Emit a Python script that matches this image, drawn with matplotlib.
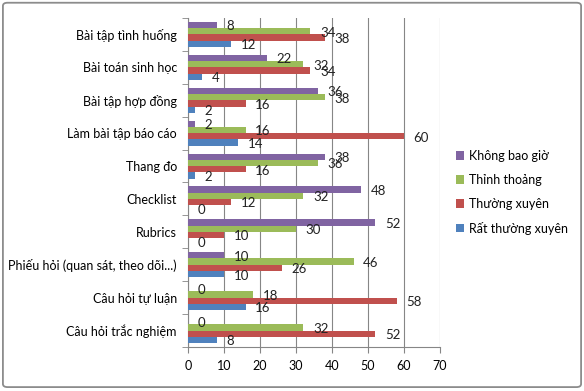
import matplotlib.pyplot as plt
import numpy as np
from matplotlib.patches import FancyBboxPatch

categories = ['Câu hỏi trắc nghiệm', 'Câu hỏi tự luận', 'Phiếu hỏi (quan sát, theo dõi...)',
              'Rubrics', 'Checklist', 'Thang đo', 'Làm bài tập báo cáo',
              'Bài tập hợp đồng', 'Bài toán sinh học', 'Bài tập tình huống']
rat_thuong_xuyen = [8, 16, 10, 0, 0, 2, 14, 2, 4, 12]
thuong_xuyen = [52, 58, 26, 10, 12, 16, 60, 16, 34, 38]
thinh_thoang = [32, 18, 46, 30, 32, 36, 16, 38, 32, 34]
khong_bao_gio = [0, 0, 10, 52, 48, 38, 2, 36, 22, 8]
x_ticks = [0, 10, 20, 30, 40, 50, 60, 70]

plt.rcParams['font.family'] = ['Lato', 'DejaVu Sans']
plt.rcParams['font.size'] = 9

fig = plt.figure(figsize=(5.84, 3.91), dpi=100)
ax = fig.add_axes([188 / 584, 1 - 347 / 391, 252 / 584, 329 / 391])

# outer chart border
fig.patches.append(FancyBboxPatch((0.005, 0.01), 0.99, 0.983,
                                  boxstyle='round,pad=0,rounding_size=0.008',
                                  transform=fig.transFigure, fill=False,
                                  edgecolor='#8c8c8c', linewidth=1.3))

y = np.arange(len(categories))
h = 0.19
series = [
    (rat_thuong_xuyen, 'Rất thường xuyên', '#4F81BD', -1.5),
    (thuong_xuyen, 'Thường xuyên', '#C0504D', -0.5),
    (thinh_thoang, 'Thỉnh thoảng', '#9BBB59', 0.5),
    (khong_bao_gio, 'Không bao giờ', '#8064A2', 1.5),
]
handles = {}
for vals, name, color, off in series:
    bars = ax.barh(y + off * h, vals, height=h, color=color, label=name, zorder=3)
    handles[name] = bars
    for rect, v in zip(bars, vals):
        ax.annotate(str(v), xy=(rect.get_width(), rect.get_y() + rect.get_height() / 2),
                    xytext=(7, -1), textcoords='offset points', ha='left', va='center',
                    fontsize=9.5, color='#222222', zorder=4)

ax.set_xlim(0, 70)
ax.set_ylim(-0.5, len(categories) - 0.5)
ax.set_xticks(x_ticks)
ax.set_yticks(y)
ax.set_yticklabels(categories)
ax.set_yticks(np.arange(-0.5, len(categories), 1), minor=True)
ax.tick_params(axis='y', which='major', length=0, pad=8)
ax.tick_params(axis='y', which='minor', length=4, color='#868686')
ax.tick_params(axis='x', length=4, color='#868686', pad=5)
ax.grid(axis='x', color='#868686', linewidth=0.8, zorder=0)
for s in ['top', 'right']:
    ax.spines[s].set_visible(False)
for s in ['left', 'bottom']:
    ax.spines[s].set_color('#868686')

order = ['Không bao giờ', 'Thỉnh thoảng', 'Thường xuyên', 'Rất thường xuyên']
leg = fig.legend([handles[n] for n in order], order, loc='upper left',
                 bbox_to_anchor=(456 / 584, 1 - 150 / 391), frameon=False,
                 handlelength=0.65, handleheight=0.65, handletextpad=0.4,
                 labelspacing=0.95, borderpad=0, borderaxespad=0, fontsize=9)

fig.savefig('out.png', dpi=100)
